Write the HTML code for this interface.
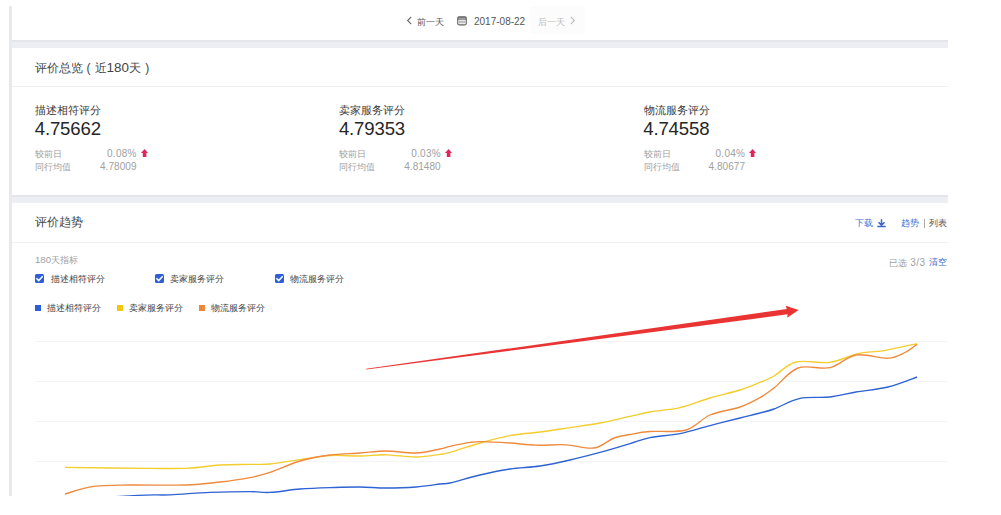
<!DOCTYPE html>
<html><head><meta charset="utf-8">
<style>
*{margin:0;padding:0;box-sizing:border-box}
html,body{width:1001px;height:515px;background:#fff;overflow:hidden;font-family:"Liberation Sans",sans-serif;color:#333}
.a{position:absolute;white-space:nowrap;line-height:1}
#clip{position:absolute;left:0;top:0;width:948px;height:496px;overflow:hidden}
#lborder{position:absolute;left:9px;top:6px;width:3px;height:490px;background:#e7e9ef}
#band1{position:absolute;left:12px;top:40px;width:936px;height:8px;background:#eceef3;border-top:2px solid #e4e6ea}
#band2{position:absolute;left:12px;top:195px;width:936px;height:8px;background:#eceef3;border-top:2px solid #e4e6ea}
.sep{position:absolute;left:12px;width:936px;height:1px;background:#eef0f3}
.grid{position:absolute;left:35px;width:913px;height:1px;background:#f4f5f6}
.cj{font-size:9px}
.gr{color:#a0a0a0}
.blue{color:#3c6fd6}
</style></head><body>
<div id="clip">
<div id="lborder"></div>
<div id="band1"></div>
<div id="band2"></div>
<div style="position:absolute;left:530px;top:6px;width:55px;height:28px;background:#fcfcfc"></div>
<svg class="a" style="left:406px;top:16px" width="7" height="9" viewBox="0 0 7 9"><path d="M5.2 0.8 L1.6 4.5 L5.2 8.2" fill="none" stroke="#666" stroke-width="1.1"/></svg>
<div class="a cj" style="left:417px;top:17.5px;color:#555">前一天</div>
<svg class="a" style="left:457px;top:15.5px" width="10" height="10" viewBox="0 0 10 10"><rect x="0.2" y="0.3" width="9.6" height="9.1" rx="1.8" fill="#5a5a5a"/><rect x="1.3" y="1.7" width="7.4" height="0.9" fill="#ccc"/><rect x="1.3" y="3.6" width="7.4" height="4.7" fill="#fff"/><rect x="2.4" y="4.6" width="1.1" height="2.7" fill="#888"/><rect x="4.45" y="4.6" width="1.1" height="2.7" fill="#888"/><rect x="6.5" y="4.6" width="1.1" height="2.7" fill="#888"/></svg>
<div class="a" style="left:474px;top:16.5px;font-size:10px;color:#555">2017-08-22</div>
<div class="a cj" style="left:538px;top:17.5px;color:#bdbdbd">后一天</div>
<svg class="a" style="left:569px;top:16px" width="7" height="9" viewBox="0 0 7 9"><path d="M1.8 0.8 L5.4 4.5 L1.8 8.2" fill="none" stroke="#bbb" stroke-width="1.1"/></svg>
<!-- card1 -->
<div class="a" style="left:35px;top:61px;font-size:12px;color:#444">评价总览<span style="margin:0 4px 0 3.5px">(</span>近<span style="font-size:13.4px">180</span>天<span style="margin-left:4.5px">)</span></div>
<div class="sep" style="top:86px"></div>
<div class="a" style="left:35.0px;top:104.5px;font-size:10.5px;color:#3a3a3a">描述相符评分</div>
<div class="a" style="left:34.7px;top:119.5px;font-size:18.6px;color:#262626;letter-spacing:-0.15px">4.75662</div>
<div class="a cj gr" style="left:35.0px;top:149.5px">较前日</div>
<div class="a gr" style="left:75.0px;width:61.8px;text-align:right;top:148.5px;font-size:10px;letter-spacing:0.3px">0.08%</div>
<svg class="a" style="left:140.8px;top:148.8px" width="7.2" height="8.6" viewBox="0 0 7.2 8.6"><path d="M3.6 0 L7.2 4.1 L5.4 4.1 L5.4 8.6 L1.8 8.6 L1.8 4.1 L0 4.1 Z" fill="#e2245a"/></svg>
<div class="a cj gr" style="left:35.0px;top:162.5px">同行均值</div>
<div class="a gr" style="left:75.0px;width:61.5px;text-align:right;top:162px;font-size:10px;letter-spacing:0.05px">4.78009</div>
<div class="a" style="left:339.2px;top:104.5px;font-size:10.5px;color:#3a3a3a">卖家服务评分</div>
<div class="a" style="left:338.9px;top:119.5px;font-size:18.6px;color:#262626;letter-spacing:-0.15px">4.79353</div>
<div class="a cj gr" style="left:339.2px;top:149.5px">较前日</div>
<div class="a gr" style="left:379.2px;width:61.8px;text-align:right;top:148.5px;font-size:10px;letter-spacing:0.3px">0.03%</div>
<svg class="a" style="left:445.0px;top:148.8px" width="7.2" height="8.6" viewBox="0 0 7.2 8.6"><path d="M3.6 0 L7.2 4.1 L5.4 4.1 L5.4 8.6 L1.8 8.6 L1.8 4.1 L0 4.1 Z" fill="#e2245a"/></svg>
<div class="a cj gr" style="left:339.2px;top:162.5px">同行均值</div>
<div class="a gr" style="left:379.2px;width:61.5px;text-align:right;top:162px;font-size:10px;letter-spacing:0.05px">4.81480</div>
<div class="a" style="left:643.5px;top:104.5px;font-size:10.5px;color:#3a3a3a">物流服务评分</div>
<div class="a" style="left:643.2px;top:119.5px;font-size:18.6px;color:#262626;letter-spacing:-0.15px">4.74558</div>
<div class="a cj gr" style="left:643.5px;top:149.5px">较前日</div>
<div class="a gr" style="left:683.5px;width:61.8px;text-align:right;top:148.5px;font-size:10px;letter-spacing:0.3px">0.04%</div>
<svg class="a" style="left:749.3px;top:148.8px" width="7.2" height="8.6" viewBox="0 0 7.2 8.6"><path d="M3.6 0 L7.2 4.1 L5.4 4.1 L5.4 8.6 L1.8 8.6 L1.8 4.1 L0 4.1 Z" fill="#e2245a"/></svg>
<div class="a cj gr" style="left:643.5px;top:162.5px">同行均值</div>
<div class="a gr" style="left:683.5px;width:61.5px;text-align:right;top:162px;font-size:10px;letter-spacing:0.05px">4.80677</div>
<!-- card2 -->
<div class="a" style="left:35px;top:216px;font-size:12px;color:#444">评价趋势</div>
<div class="a blue cj" style="left:855px;top:219px">下载</div>
<svg class="a" style="left:877px;top:218.8px" width="9" height="9" viewBox="0 0 9 9"><path d="M4.5 0.3 L4.5 6.2 M1.5 3.2 L4.5 6.2 L7.5 3.2 M0.3 7.6 L8.7 7.6" fill="none" stroke="#3a66d0" stroke-width="1.5"/></svg>
<div class="a blue cj" style="left:901px;top:219px">趋势</div>
<div style="position:absolute;left:923.5px;top:218.5px;width:1px;height:9.5px;background:#aaa"></div>
<div class="a cj" style="left:929px;top:219px;color:#555">列表</div>
<div class="sep" style="top:242px"></div>
<div class="a cj gr" style="left:35px;top:255px"><span style="font-size:9.6px">180</span>天指标</div>
<div class="a cj gr" style="left:889.3px;top:257.6px">已选<span style="font-size:10px;margin-left:3px;letter-spacing:0.4px">3/3</span></div>
<div class="a cj blue" style="left:929.3px;top:258px">清空</div>
<svg class="a" style="left:35px;top:274px" width="9" height="9" viewBox="0 0 9 9"><rect x="0" y="0" width="9" height="9" rx="1.6" fill="#2b5fd6"/><path d="M1.4 4.3 L3.7 6.6 L7.7 2.2" fill="none" stroke="#fff" stroke-width="1.5"/></svg>
<div class="a cj" style="left:50.8px;top:274.5px;color:#444">描述相符评分</div>
<svg class="a" style="left:155px;top:274px" width="9" height="9" viewBox="0 0 9 9"><rect x="0" y="0" width="9" height="9" rx="1.6" fill="#2b5fd6"/><path d="M1.4 4.3 L3.7 6.6 L7.7 2.2" fill="none" stroke="#fff" stroke-width="1.5"/></svg>
<div class="a cj" style="left:170.3px;top:274.5px;color:#444">卖家服务评分</div>
<svg class="a" style="left:274.5px;top:274px" width="9" height="9" viewBox="0 0 9 9"><rect x="0" y="0" width="9" height="9" rx="1.6" fill="#2b5fd6"/><path d="M1.4 4.3 L3.7 6.6 L7.7 2.2" fill="none" stroke="#fff" stroke-width="1.5"/></svg>
<div class="a cj" style="left:289.5px;top:274.5px;color:#444">物流服务评分</div>
<div style="position:absolute;left:35px;top:305px;width:6px;height:6px;background:#2b5fd6"></div>
<div class="a cj" style="left:47px;top:303.5px;color:#444">描述相符评分</div>
<div style="position:absolute;left:117px;top:305px;width:6px;height:6px;background:#f3c60f"></div>
<div class="a cj" style="left:129px;top:303.5px;color:#444">卖家服务评分</div>
<div style="position:absolute;left:199.3px;top:305px;width:6px;height:6px;background:#f08536"></div>
<div class="a cj" style="left:211.4px;top:303.5px;color:#444">物流服务评分</div>
<div class="grid" style="top:341px"></div>
<div class="grid" style="top:381px"></div>
<div class="grid" style="top:421px"></div>
<div class="grid" style="top:461px"></div>
<svg class="a" style="left:0;top:0" width="948" height="496" viewBox="0 0 948 496">
<path d="M65.0 467.4 C79.2 467.6 129.5 468.3 150.0 468.4 C170.5 468.5 176.3 468.8 188.0 468.2 C199.7 467.6 209.7 465.6 220.0 465.0 C230.3 464.4 241.7 464.6 250.0 464.4 C258.3 464.2 261.7 464.8 270.0 464.0 C278.3 463.2 290.0 461.0 300.0 459.6 C310.0 458.2 320.0 456.2 330.0 455.6 C340.0 455.0 350.7 456.1 360.0 456.0 C369.3 455.9 376.7 454.6 386.0 454.8 C395.3 455.0 407.0 457.1 416.0 457.0 C425.0 456.9 434.3 455.2 440.0 454.4 C445.7 453.6 443.3 454.3 450.0 452.4 C456.7 450.5 470.0 445.8 480.0 443.0 C490.0 440.2 500.0 437.4 510.0 435.6 C520.0 433.8 530.0 433.3 540.0 432.0 C550.0 430.7 560.0 429.1 570.0 427.6 C580.0 426.1 590.0 424.9 600.0 423.0 C610.0 421.1 621.7 418.2 630.0 416.4 C638.3 414.6 641.7 413.5 650.0 412.0 C658.3 410.5 670.0 409.9 680.0 407.6 C690.0 405.3 700.0 400.9 710.0 398.0 C720.0 395.1 731.7 392.6 740.0 390.0 C748.3 387.4 754.3 384.7 760.0 382.4 C765.7 380.1 768.0 379.4 774.0 376.0 C780.0 372.6 786.7 364.3 796.0 362.0 C805.3 359.7 819.7 363.8 830.0 362.4 C840.3 361.0 849.0 355.6 858.0 353.6 C867.0 351.6 874.2 352.3 884.0 350.6 C893.8 348.9 911.5 344.8 917.0 343.6" fill="none" stroke="#f3cd2e" stroke-width="1.35"/>
<path d="M65.0 494.0 C69.8 492.7 83.2 487.9 94.0 486.4 C104.8 484.9 114.7 485.2 130.0 485.0 C145.3 484.8 171.0 485.5 186.0 485.0 C201.0 484.5 209.3 483.2 220.0 482.0 C230.7 480.8 241.7 479.2 250.0 477.6 C258.3 476.0 261.7 475.2 270.0 472.4 C278.3 469.6 290.0 463.9 300.0 461.0 C310.0 458.1 320.0 456.3 330.0 455.0 C340.0 453.7 350.7 453.7 360.0 453.0 C369.3 452.3 376.7 451.0 386.0 451.0 C395.3 451.0 407.0 453.3 416.0 453.0 C425.0 452.7 434.3 450.1 440.0 449.0 C445.7 447.9 445.0 447.5 450.0 446.4 C455.0 445.3 464.7 443.2 470.0 442.4 C475.3 441.6 475.3 441.5 482.0 441.6 C488.7 441.7 501.0 442.4 510.0 443.0 C519.0 443.6 526.7 444.9 536.0 445.2 C545.3 445.5 556.3 444.3 566.0 444.8 C575.7 445.3 586.0 449.1 594.0 448.0 C602.0 446.9 608.0 440.2 614.0 438.0 C620.0 435.8 624.0 435.6 630.0 434.5 C636.0 433.4 640.7 432.2 650.0 431.5 C659.3 430.8 676.0 432.8 686.0 430.0 C696.0 427.2 701.0 418.8 710.0 415.0 C719.0 411.2 731.7 409.9 740.0 407.0 C748.3 404.1 754.3 400.8 760.0 397.6 C765.7 394.4 767.7 392.9 774.0 388.0 C780.3 383.1 788.7 371.4 798.0 368.0 C807.3 364.6 820.3 369.8 830.0 367.6 C839.7 365.4 846.3 356.6 856.0 355.0 C865.7 353.4 879.8 358.6 888.0 358.2 C896.2 357.8 900.2 354.8 905.0 352.5 C909.8 350.2 915.0 345.8 917.0 344.4" fill="none" stroke="#ef8a3d" stroke-width="1.35"/>
<path d="M65.0 500.0 C77.2 499.2 120.5 496.2 138.0 495.3 C155.5 494.4 158.0 495.3 170.0 494.8 C182.0 494.3 196.7 492.9 210.0 492.4 C223.3 491.9 240.0 491.6 250.0 491.6 C260.0 491.6 261.7 492.8 270.0 492.4 C278.3 492.0 290.0 489.8 300.0 489.0 C310.0 488.2 320.0 487.9 330.0 487.6 C340.0 487.3 350.7 486.9 360.0 487.0 C369.3 487.1 376.7 488.0 386.0 488.0 C395.3 488.0 407.0 487.7 416.0 487.0 C425.0 486.3 434.3 484.7 440.0 484.0 C445.7 483.3 443.3 484.5 450.0 483.0 C456.7 481.5 470.0 477.3 480.0 475.0 C490.0 472.7 500.0 470.5 510.0 469.0 C520.0 467.5 530.0 467.5 540.0 466.0 C550.0 464.5 560.0 462.3 570.0 460.0 C580.0 457.7 590.0 455.1 600.0 452.4 C610.0 449.7 621.7 446.1 630.0 443.6 C638.3 441.1 641.7 439.3 650.0 437.6 C658.3 435.9 670.0 435.6 680.0 433.6 C690.0 431.6 700.0 428.2 710.0 425.6 C720.0 423.0 731.7 420.1 740.0 418.0 C748.3 415.9 754.3 414.5 760.0 413.0 C765.7 411.5 767.3 411.4 774.0 409.0 C780.7 406.6 790.7 400.4 800.0 398.4 C809.3 396.4 820.7 398.1 830.0 397.0 C839.3 395.9 846.3 393.7 856.0 392.0 C865.7 390.3 877.8 389.5 888.0 387.0 C898.2 384.5 912.2 378.7 917.0 377.0" fill="none" stroke="#2d63d2" stroke-width="1.35"/>
<polygon points="366.1,368.8 786.8,309.0 785.6,305.7 798.6,310.1 787.2,317.8 787.6,314.3 366.3,369.6" fill="#ea3333"/>
</svg>
</div>
</body></html>
